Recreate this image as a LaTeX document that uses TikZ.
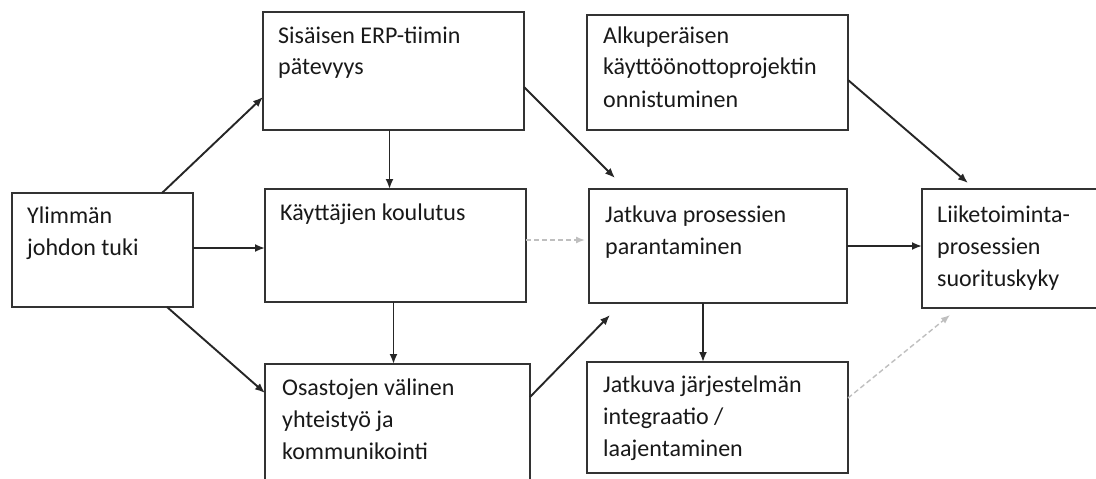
\documentclass[tikz,border=0pt]{standalone}
\usepackage{fontspec}
\setmainfont{Carlito}
\usetikzlibrary{arrows.meta,calc}

\tikzset{
  box/.style={draw=black!80, line width=2.4pt, fill=white, inner sep=0pt, outer sep=0pt},
  lbl/.style={anchor=base west, inner sep=0pt, text=black!90},
  arr/.style={draw=black!85, line width=1.9pt, -{Latex[length=10pt,width=8pt]}},
  faint/.style={draw=black!25, line width=1.4pt, dashed, dash pattern=on 5pt off 3pt, -{Latex[length=9pt,width=7pt]}}
}
\newcommand{\boxtext}[1]{\parbox[t]{10cm}{\fontsize{24}{32}\selectfont\raggedright #1}}

\begin{document}
\begin{tikzpicture}[x=1pt,y=-1pt]
\useasboundingbox (0,0) rectangle (1096,479);
\fill[white] (0,0) rectangle (1096,479);
\clip (0,0) rectangle (1096,479);

% boxes (centre, width, height in pixel units)
\node[box, minimum width=181, minimum height=114] (ylim) at (102.5,250) {};
\node[box, minimum width=261, minimum height=118] (sis)  at (393.5,71) {};
\node[box, minimum width=261, minimum height=113] (kay)  at (395.5,245.5) {};
\node[box, minimum width=265, minimum height=136] (osa)  at (397.5,432) {};
\node[box, minimum width=261, minimum height=115] (alk)  at (717.5,72.5) {};
\node[box, minimum width=258, minimum height=114] (jpp)  at (718,246) {};
\node[box, minimum width=261, minimum height=111] (int)  at (717.5,417.5) {};
\node[box, minimum width=200, minimum height=119] (lii)  at (1022,248.5) {};

% box texts
\node[lbl] (tylim) at (27,223)  {\boxtext{Ylimmän\\johdon tuki}};
\node[lbl] (tsis)  at (278,43)  {\boxtext{Sisäisen ERP-tiimin\\pätevyys}};
\node[lbl] (tkay)  at (280,220) {\boxtext{Käyttäjien koulutus}};
\node[lbl] (tosa)  at (282,395) {\boxtext{Osastojen välinen\\yhteistyö ja\\kommunikointi}};
\node[lbl] (talk)  at (603,43)  {\boxtext{Alkuperäisen\\käyttöönottoprojektin\\onnistuminen}};
\node[lbl] (tjpp)  at (605,222) {\boxtext{Jatkuva prosessien\\parantaminen}};
\node[lbl] (tint)  at (603,392) {\boxtext{Jatkuva järjestelmän\\integraatio /\\laajentaminen}};
\node[lbl] (tlii)  at (937,222) {\boxtext{Liiketoiminta-\\prosessien\\suorituskyky}};

% connectors
\draw[arr] ([xshift=-31pt]ylim.north east) -- ([yshift=-26pt]sis.west);
\draw[arr] ([yshift=2pt]ylim.east) -- ([yshift=2pt]kay.west |- ylim.east);
\draw[arr] ([xshift=-26pt]ylim.south east) -- ([yshift=-29pt]osa.north west);
\draw[arr] ([xshift=-4pt]sis.south) -- ([xshift=-4pt]sis.south |- kay.north);
\draw[arr] ([xshift=-2pt]kay.south) -- ([xshift=-2pt]kay.south |- osa.north);
\draw[arr] ([yshift=-16pt]sis.east) -- ([shift={(26pt,11pt)}]jpp.north west);
\draw[faint] ([yshift=5.5pt]kay.east) -- ([xshift=-4pt,yshift=5.5pt]jpp.west |- kay.east);
\draw[arr] ([yshift=-33pt]osa.north east) -- ([shift={(21pt,-12pt)}]jpp.south west);
\draw[arr] ([xshift=-15pt]jpp.south) -- ([xshift=-15pt]jpp.south |- int.north);
\draw[arr] (jpp.east) -- (lii.west |- jpp.east);
\draw[arr] ([yshift=-7.5pt]alk.east) -- ([shift={(46pt,6pt)}]lii.north west);
\draw[faint] ([yshift=19.5pt]int.east) -- ([shift={(28pt,-7pt)}]lii.south west);
\end{tikzpicture}
\end{document}
